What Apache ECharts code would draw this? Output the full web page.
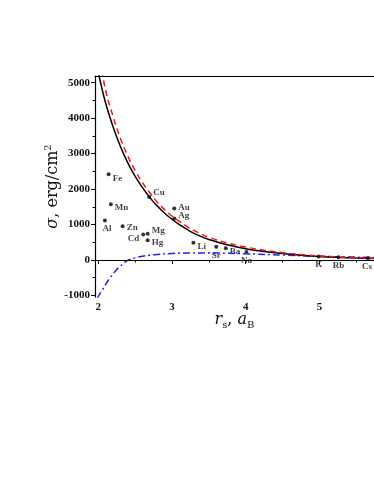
<!DOCTYPE html>
<html>
<head>
<meta charset="utf-8">
<script src="https://cdn.jsdelivr.net/npm/echarts@6/dist/echarts.min.js"></script>
<style>
  html, body { margin: 0; padding: 0; background: #fff; }
  #chart { width: 374px; height: 484px; }
</style>
</head>
<body>
<div id="chart"></div>
<script>
// curves, [r_s, sigma]
const solidCurve = [
  [2.0, 5280], [2.1, 4420], [2.2, 3760], [2.3, 3200], [2.4, 2740], [2.5, 2360],
  [2.6, 2040], [2.7, 1760], [2.8, 1520], [2.9, 1320], [3.0, 1150], [3.1, 1000],
  [3.2, 870], [3.3, 750], [3.4, 660], [3.5, 580], [3.75, 430], [4.0, 320],
  [4.25, 240], [4.5, 180], [4.75, 135], [5.0, 100], [5.25, 75], [5.5, 57], [5.75, 44]
];
const dashedCurve = [
  [2.0, 5900], [2.1, 4780], [2.2, 4050], [2.3, 3430], [2.4, 2930], [2.5, 2520],
  [2.6, 2180], [2.7, 1890], [2.8, 1630], [2.9, 1420], [3.0, 1240], [3.1, 1090],
  [3.2, 950], [3.3, 830], [3.4, 730], [3.5, 640], [3.75, 480], [4.0, 365],
  [4.25, 275], [4.5, 205], [4.75, 155], [5.0, 115], [5.25, 87], [5.5, 66], [5.75, 50]
];
const dashDotCurve = [
  [1.99, -1080], [2.0, -1030], [2.05, -860], [2.1, -690], [2.15, -530], [2.2, -390],
  [2.25, -270], [2.3, -170], [2.35, -80], [2.4, -10], [2.5, 60], [2.6, 105],
  [2.7, 135], [2.8, 158], [3.0, 185], [3.25, 200], [3.5, 200], [3.75, 190],
  [4.0, 175], [4.5, 140], [5.0, 105], [5.5, 80], [5.75, 70]
];

// experimental points
const metals = ['Fe', 'Mn', 'Al', 'Zn', 'Cd', 'Mg', 'Hg', 'Cu', 'Au', 'Ag', 'Li', 'Sr', 'Ba', 'Na', 'K', 'Rb', 'Cs'];
const metalRs = [2.14, 2.17, 2.09, 2.33, 2.61, 2.67, 2.67, 2.69, 3.03, 3.03, 3.29, 3.60, 3.73, 4.01, 4.99, 5.26, 5.66];
const metalSigma = [2420, 1570, 1115, 950, 720, 740, 560, 1780, 1450, 1170, 485, 375, 330, 225, 95, 75, 55];

const xTicks = [2, 3, 4, 5];
const xMinorTicks = [2.5, 3.5, 4.5, 5.5];
const yTicks = [-1000, 0, 1000, 2000, 3000, 4000, 5000];
const yMinorTicks = [-500, 500, 1500, 2500, 3500, 4500];

// where each element name sits next to its dot
const labelPlace = {
  Fe: ['right', [0, 4]], Mn: ['right', [0, 3]], Al: ['bottom', [2, 0]], Zn: ['right', [0, 1]],
  Cd: ['left', [0, 4]], Mg: ['right', [0, -3]], Hg: ['right', [0, 3]], Cu: ['right', [0, -4]],
  Au: ['right', [0, -1]], Ag: ['right', [0, -3]], Li: ['right', [0, 4]], Sr: ['bottom', [0, 0]],
  Ba: ['right', [0, 3]], Na: ['bottom', [0, 0]], K: ['bottom', [0, 0]], Rb: ['bottom', [0, 0]],
  Cs: ['bottom', [-1, 0]]
};

const serif = '"Liberation Serif", "DejaVu Serif", serif';
const nameFont = '"DejaVu Serif", serif';
const X_MIN = 1.955, X_MAX = 5.741, Y_MIN = -1044, Y_MAX = 5190;

let pts = metals.map((m, i) => ({
  name: m,
  value: [metalRs[i], metalSigma[i]],
  label: { position: labelPlace[m][0], offset: labelPlace[m][1] }
}));

let chart = echarts.init(document.getElementById('chart'), null, { renderer: 'canvas' });

let option = {
  animation: false,
  grid: { left: 95, top: 76, right: 0, bottom: 187 },
  xAxis: [
    {
      type: 'value', min: X_MIN, max: X_MAX, position: 'bottom',
      splitLine: { show: false },
      axisLine: { lineStyle: { color: '#000', width: 1.2 } },
      axisTick: { customValues: xTicks, length: 4, lineStyle: { color: '#000' } },
      axisLabel: {
        customValues: xTicks, formatter: v => String(v),
        color: '#111', fontFamily: serif, fontSize: 11, fontWeight: 'bold', margin: 5
      },
      name: '{i|r}{sub|s}{n|, }{i|a}{sub|B}',
      nameLocation: 'middle', nameGap: 13, nameMoveOverlap: false,
      nameTextStyle: {
        rich: {
          i: { fontFamily: nameFont, fontStyle: 'italic', fontSize: 16, color: '#111', lineHeight: 20 },
          n: { fontFamily: nameFont, fontSize: 16, color: '#111', lineHeight: 20 },
          sub: { fontFamily: nameFont, fontSize: 10, color: '#111', verticalAlign: 'bottom', lineHeight: 20 }
        }
      }
    },
    {
      type: 'value', min: X_MIN, max: X_MAX, position: 'bottom',
      splitLine: { show: false }, axisLine: { show: false }, axisLabel: { show: false },
      axisTick: { customValues: xMinorTicks, length: 2.5, lineStyle: { color: '#000' } }
    },
    {
      type: 'value', min: X_MIN, max: X_MAX, position: 'top',
      splitLine: { show: false }, axisTick: { show: false }, axisLabel: { show: false },
      axisLine: { lineStyle: { color: '#000', width: 1.2 } }
    }
  ],
  yAxis: [
    {
      type: 'value', min: Y_MIN, max: Y_MAX, position: 'left',
      splitLine: { show: false },
      axisLine: { lineStyle: { color: '#000', width: 1.2 } },
      axisTick: { customValues: yTicks, length: 4, lineStyle: { color: '#000' } },
      axisLabel: {
        customValues: yTicks, formatter: v => String(v),
        color: '#111', fontFamily: serif, fontSize: 11, fontWeight: 'bold', margin: 5
      },
      name: '{i|σ}{n|, erg/cm}{sup|2}',
      nameLocation: 'middle', nameRotate: 90, nameGap: 32, nameMoveOverlap: false,
      nameTextStyle: {
        rich: {
          i: { fontFamily: nameFont, fontStyle: 'italic', fontSize: 16, color: '#111', lineHeight: 20 },
          n: { fontFamily: nameFont, fontSize: 16, color: '#111', lineHeight: 20 },
          sup: { fontFamily: nameFont, fontSize: 10, color: '#111', verticalAlign: 'top', lineHeight: 20 }
        }
      }
    },
    {
      type: 'value', min: Y_MIN, max: Y_MAX, position: 'left',
      splitLine: { show: false }, axisLine: { show: false }, axisLabel: { show: false },
      axisTick: { customValues: yMinorTicks, length: 2.5, lineStyle: { color: '#000' } }
    }
  ],
  series: [
    {
      type: 'line', data: dashDotCurve, smooth: 0.4, showSymbol: false, clip: true,
      lineStyle: { color: '#1f1fff', width: 1.5, type: [7, 3, 2, 3] }
    },
    {
      type: 'line', data: solidCurve, smooth: 0.4, showSymbol: false, clip: true,
      lineStyle: { color: '#000', width: 1.5 },
      markLine: {
        silent: true, symbol: 'none', label: { show: false },
        lineStyle: { color: '#000', width: 1, type: 'solid' },
        data: [{ yAxis: 0 }]
      }
    },
    {
      type: 'line', data: dashedCurve, smooth: 0.4, showSymbol: false, clip: true,
      lineStyle: { color: '#ff1010', width: 1.5, type: [6, 4] }
    },
    {
      type: 'scatter', data: pts, symbol: 'circle', symbolSize: 4,
      itemStyle: { color: '#000' },
      label: {
        show: true, formatter: '{b}', distance: 2,
        fontFamily: serif, fontSize: 9, fontWeight: 'bold', color: '#111'
      }
    }
  ]
};

chart.setOption(option);
</script>
</body>
</html>
